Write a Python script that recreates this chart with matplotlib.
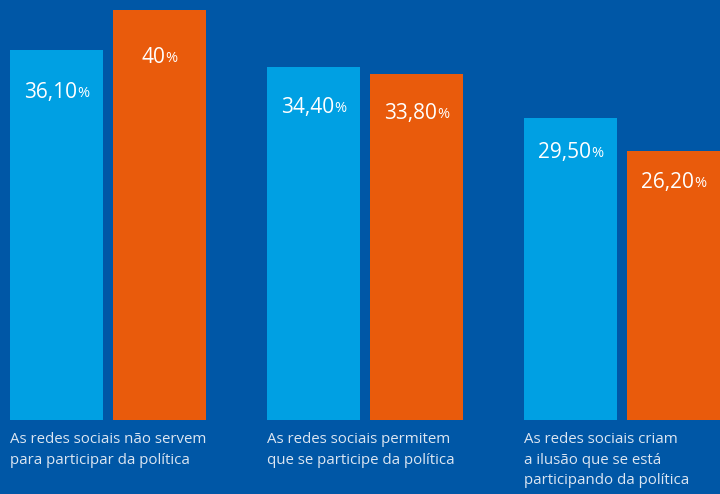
import numpy as np
import matplotlib.pyplot as plt
from matplotlib.transforms import offset_copy

categories = ["As redes sociais não servem\npara participar da política",
              "As redes sociais permitem\nque se participe da política",
              "As redes sociais criam\na ilusão que se está\nparticipando da política"]
serie_a = [36.10, 34.40, 29.50]
serie_b = [40.0, 33.80, 26.20]
labels_a = ["36,10", "34,40", "29,50"]
labels_b = ["40", "33,80", "26,20"]

bg = "#0057a6"
c_a = "#00a0e3"
c_b = "#e95b0c"
plt.rcParams["font.family"] = ["Open Sans", "DejaVu Sans"]

fig = plt.figure(figsize=(7.2, 4.94), dpi=100, facecolor=bg)
ax = fig.add_axes([0, 74 / 494, 1, 420 / 494])
ax.set_facecolor(bg)

x = np.arange(len(categories))
w = 93 / 257
xa = x + 56.5 / 257
xb = x + 159.5 / 257
ax.bar(xa, serie_a, width=w, color=c_a)
ax.bar(xb, serie_b, width=w, color=c_b)
ax.set_xlim(0, 720 / 257)
ax.set_ylim(0, 40.98)
ax.axis("off")

# value labels: number plus a smaller percent sign, centred together
fig.canvas.draw()
r = fig.canvas.get_renderer()
for xs, vals, labs in [(xa, serie_a, labels_a), (xb, serie_b, labels_b)]:
    for xi, v, lab in zip(xs, vals, labs):
        y = v * 0.885
        t1 = ax.text(xi, y, lab, color="white", fontsize=15, ha="left",
                     va="center")
        t2 = ax.text(xi, y, "%", color="white", fontsize=10.5, ha="left",
                     va="center")
        w1 = t1.get_window_extent(r).width
        w2 = t2.get_window_extent(r).width
        gap = 0.5
        total = w1 + gap + w2
        t1.set_transform(offset_copy(ax.transData, fig=fig, x=-total / 2,
                                     y=0, units="dots"))
        t2.set_transform(offset_copy(ax.transData, fig=fig, x=-total / 2 + w1 + gap,
                                     y=-1, units="dots"))

# category captions under each group
for xi, cat in zip(x, categories):
    tr = offset_copy(ax.get_xaxis_transform(), fig=fig, x=0, y=-12, units="dots")
    ax.text(xi + 10 / 257, 0, cat, color="#dce6f2", fontsize=10.8, ha="left",
            va="top", linespacing=1.5, transform=tr)

fig.savefig("out.png", dpi=100, facecolor=bg)
